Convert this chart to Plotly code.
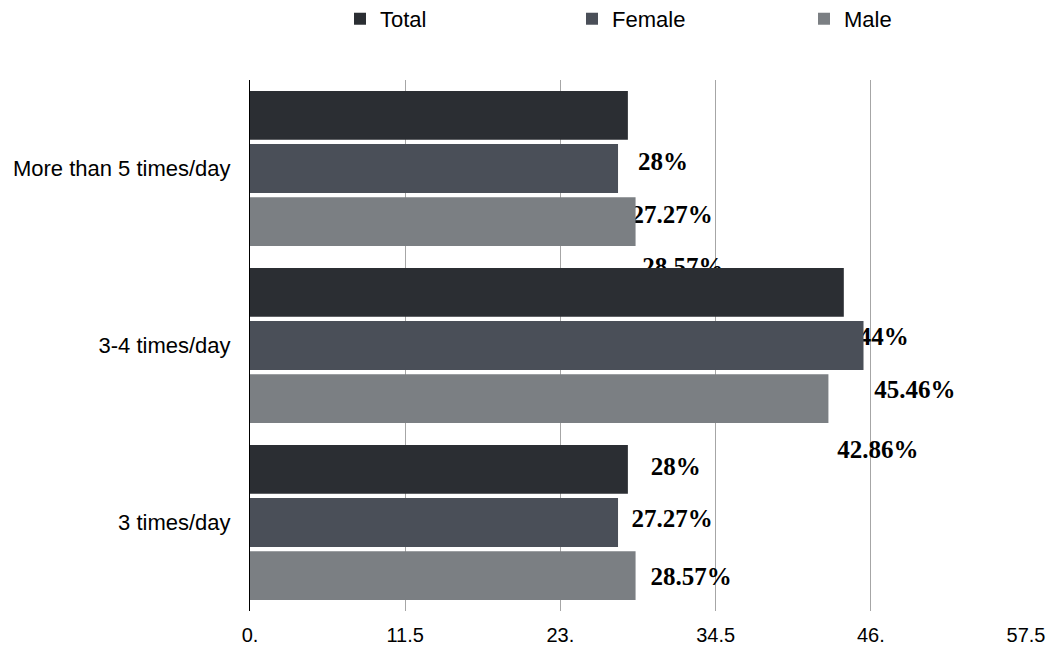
import plotly.graph_objects as go

# ---- data ----
categories = ["More than 5 times/day", "3-4 times/day", "3 times/day"]
series_names = ["Total", "Female", "Male"]
total = [28.0, 44.0, 28.0]
female = [27.27, 45.46, 27.27]
male = [28.57, 42.86, 28.57]
label_text = [
    ["28%", "44%", "28%"],
    ["27.27%", "45.46%", "27.27%"],
    ["28.57%", "42.86%", "28.57%"],
]
tick_values = [0, 11.5, 23, 34.5, 46, 57.5]
tick_labels = ["0.", "11.5", "23.", "34.5", "46.", "57.5"]

# ---- style ----
colors = ["#2b2e33", "#4a4f58", "#7b7f83"]
BARGAP = 0.1
# label shifts (category units / x units) per series, per category
label_dy = [[0.275, 0.26, -0.005], [0.272, 0.264, -0.008], [0.269, 0.3, 0.015]]
label_dx = [[0.75, 1.1, 1.7], [1.0, 0.8, 1.0], [0.5, 0.65, 1.1]]

values = [total, female, male]
fig = go.Figure()

slot = (1 - BARGAP) / len(series_names)
# labels drawn on the base axes (underneath the bars)
for si, name in enumerate(series_names):
    offs = (si - (len(series_names) - 1) / 2) * slot
    fig.add_trace(go.Scatter(
        x=[v + label_dx[si][ci] for ci, v in enumerate(values[si])],
        y=[ci + offs + label_dy[si][ci] for ci in range(len(categories))],
        text=label_text[si],
        mode="text",
        textposition="middle right",
        textfont=dict(family="Liberation Serif", size=25, color="#000000", weight="bold"),
        showlegend=False, hoverinfo="skip",
        xaxis="x", yaxis="y",
    ))

for si, name in enumerate(series_names):
    fig.add_trace(go.Bar(
        y=categories, x=values[si], name=name, orientation="h",
        marker=dict(color=colors[si], line=dict(width=0)),
        xaxis="x2", yaxis="y2",
    ))

fig.update_layout(
    width=1053, height=654,
    margin=dict(l=250, r=27, t=80, b=43, autoexpand=False),
    paper_bgcolor="white", plot_bgcolor="white",
    barmode="group", bargap=BARGAP, bargroupgap=0.08,
    font=dict(family="Liberation Sans", color="#000000"),
    xaxis=dict(range=[0, 57.5], tickvals=tick_values, ticktext=tick_labels,
               showgrid=True, gridcolor="#a6a6a6", gridwidth=1,
               zeroline=False, showline=False,
               tickfont=dict(family="Liberation Sans Narrow, Arial Narrow, Liberation Sans", size=20),
               ticks="", ticklabelstandoff=10, fixedrange=True),
    yaxis=dict(range=[2.5, -0.5], tickvals=[0, 1, 2], ticktext=categories,
               showgrid=False, zeroline=False, showline=True, linecolor="#000000", linewidth=1,
               tickfont=dict(size=22), ticklabelstandoff=14),
    xaxis2=dict(overlaying="x", matches="x", visible=False),
    yaxis2=dict(overlaying="y", type="category", categoryorder="array",
                categoryarray=categories, range=[2.5, -0.5], visible=False),
    legend=dict(orientation="h", x=0.1160, xanchor="left", y=1.115, yanchor="middle",
                font=dict(size=22), entrywidth=187, itemwidth=30,
                bgcolor="rgba(0,0,0,0)"),
)

fig.write_html("out.html")
